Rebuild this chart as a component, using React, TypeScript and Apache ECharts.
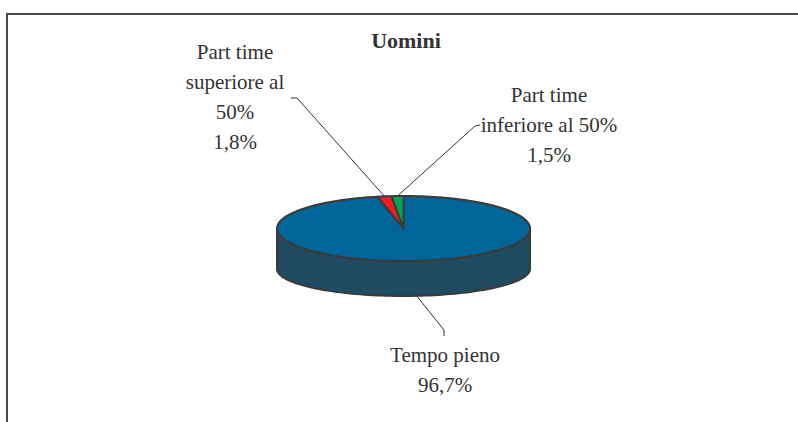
import React, { useEffect, useRef } from "react";
import * as echarts from "echarts";

// ---- data ----
const title = "Uomini";
const categories = ["Tempo pieno", "Part time superiore al 50%", "Part time inferiore al 50%"];
const labelLines = ["Tempo pieno", "Part time\nsuperiore al\n50%", "Part time\ninferiore al 50%"];
const values = [96.7, 1.8, 1.5];

// ---- styling / layout ----
const topColors = ["#006699", "#ED1C24", "#00A651"];
const sideColors = ["#1F4A5F", "#8B1014", "#00602F"];
const edgeColor = "#3a3a3a";
const textColor = "#333333";
const FONT = '"Liberation Serif", "Times New Roman", serif';
const PIE = { cx: 403.5, cy: 228.5, rx: 126.5, ry: 32.5, cyb: 269, ryb: 27 };
const labelLayout = [
  { x: 445, y: 370, path: [[444, 330], [444, 336]], anchor: "bottom" },
  { x: 235, y: 97, path: [[297, 98], [291, 98]], anchor: "top" },
  { x: 549, y: 125, path: [[475, 126], [480, 125]], anchor: "top" },
];

const deg = Math.PI / 180;
const topPt = (t: number) => [PIE.cx + PIE.rx * Math.sin(t * deg), PIE.cy - PIE.ry * Math.cos(t * deg)];
const botPt = (t: number) => [PIE.cx + PIE.rx * Math.sin(t * deg), PIE.cyb - PIE.ryb * Math.cos(t * deg)];
const arc = (a: number, b: number, f: (t: number) => number[]) => {
  const pts: number[][] = [];
  const n = Math.max(2, Math.ceil((b - a) / 2));
  for (let i = 0; i <= n; i++) pts.push(f(a + ((b - a) * i) / n));
  return pts;
};
const fmt = (v: number) => v.toFixed(1).replace(".", ",") + "%";

export default function App() {
  const ref = useRef<HTMLDivElement>(null);
  useEffect(() => {
    if (!ref.current) return;
    const chart = echarts.init(ref.current, undefined, { renderer: "svg" });
    const total = values.reduce((s, v) => s + v, 0);
    const starts: number[] = [];
    let acc = 0;
    values.forEach((v) => {
      starts.push((acc / total) * 360);
      acc += v;
    });

    chart.setOption({
      animation: false,
      backgroundColor: "#ffffff",
      graphic: [
        {
          type: "polyline",
          shape: { points: [[7, 422], [7, 14], [798, 14]] },
          style: { stroke: "#4a4a4a", lineWidth: 2, fill: null },
          z: 1,
        },
        {
          type: "text",
          x: 406,
          y: 40,
          style: {
            text: title,
            fontFamily: FONT,
            fontSize: 22,
            fontWeight: "bold",
            fill: textColor,
            align: "center",
            verticalAlign: "middle",
          },
          z: 1,
        },
      ],
      series: [
        {
          type: "custom",
          coordinateSystem: "none",
          data: values.map((v, i) => ({ name: categories[i], value: v })),
          renderItem: (params: any, api: any) => {
            const i = params.dataIndex;
            const v = api.value(0);
            const a = starts[i];
            const b = a + (v / total) * 360;
            const children: any[] = [];
            // side wall (front half only)
            const lo = Math.max(a, 90);
            const hi = Math.min(b, 270);
            if (hi > lo) {
              const pts = arc(lo, hi, topPt).concat(arc(lo, hi, botPt).reverse());
              children.push({
                type: "polygon",
                z2: 1,
                shape: { points: pts },
                style: { fill: sideColors[i], stroke: edgeColor, lineWidth: 2, lineJoin: "round" },
              });
            }
            // top face
            children.push({
              type: "polygon",
              z2: 10,
              shape: { points: [[PIE.cx, PIE.cy]].concat(arc(a, b, topPt)) },
              style: { fill: topColors[i], stroke: edgeColor, lineWidth: 2, lineJoin: "round" },
            });
            // leader line
            const mid = (a + b) / 2;
            const L = labelLayout[i];
            const anchor = L.anchor === "bottom" ? botPt(mid) : topPt(mid);
            children.push({
              type: "polyline",
              z2: 20,
              shape: { points: [anchor].concat(L.path) },
              style: { stroke: "#333333", lineWidth: 1, fill: null },
            });
            // label
            children.push({
              type: "text",
              z2: 30,
              x: L.x,
              y: L.y,
              style: {
                text: labelLines[i] + "\n" + fmt(v),
                fontFamily: FONT,
                fontSize: 21,
                lineHeight: 30,
                fill: textColor,
                align: "center",
                verticalAlign: "middle",
              },
            });
            return { type: "group", children };
          },
        },
      ],
    });
    return () => chart.dispose();
  }, []);
  return (
    <div
      ref={ref}
      style={{ position: "fixed", left: 0, top: 0, width: 798, height: 422 }}
    />
  );
}
